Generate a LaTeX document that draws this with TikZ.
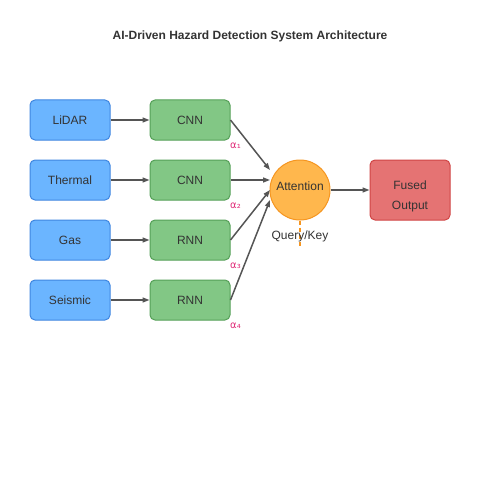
\documentclass[tikz,border=0pt]{standalone}
\usepackage{fontspec}
\setmainfont{Liberation Sans}
\newfontfamily\dejavu{DejaVu Sans}
\usetikzlibrary{arrows.meta}
\definecolor{inblue}{HTML}{6BB5FF}
\definecolor{inbluedraw}{HTML}{3F86E0}
\definecolor{fgreen}{HTML}{82C785}
\definecolor{fgreendraw}{HTML}{55A058}
\definecolor{attfill}{HTML}{FFB74D}
\definecolor{attdraw}{HTML}{F59520}
\definecolor{outfill}{HTML}{E57373}
\definecolor{outdraw}{HTML}{D04545}
\definecolor{arrowgray}{HTML}{555555}
\definecolor{alphacol}{HTML}{E0307A}
\definecolor{txt}{HTML}{333333}
\begin{document}
\begin{tikzpicture}[x=1pt,y=-1pt,
  box/.style={rounded corners=5pt, line width=1pt, minimum width=80pt, minimum height=40pt, inner sep=0pt, font=\fontsize{12}{14}\selectfont, text=txt},
  inbox/.style={box, fill=inblue, draw=inbluedraw},
  featbox/.style={box, fill=fgreen, draw=fgreendraw},
  lbl/.style={font=\fontsize{12}{14}\selectfont, text=txt, inner sep=0pt},
  conn/.style={draw=arrowgray, line width=1.5pt, -{Triangle[length=7pt,width=5pt]}},
  alphalbl/.style={font=\dejavu\fontsize{10}{11}\selectfont, text=alphacol, inner sep=0pt}]
\path[use as bounding box] (0,0) rectangle (500,500);
\node[font=\bfseries\fontsize{12}{14}\selectfont, text=txt] (title) at (250,36) {AI-Driven Hazard Detection System Architecture};
% inputs
\node[inbox] (lidar) at (70,120) {\raisebox{-1pt}{LiDAR}};
\node[inbox] (thermal) at (70,180) {\raisebox{-1pt}{Thermal}};
\node[inbox] (gas) at (70,240) {\raisebox{-1pt}{Gas}};
\node[inbox] (seismic) at (70,300) {\raisebox{-1pt}{Seismic}};
% features
\node[featbox] (cnn1) at (190,120) {\raisebox{-1pt}{CNN}};
\node[featbox] (cnn2) at (190,180) {\raisebox{-1pt}{CNN}};
\node[featbox] (rnn1) at (190,240) {\raisebox{-1pt}{RNN}};
\node[featbox] (rnn2) at (190,300) {\raisebox{-1pt}{RNN}};
% attention
\node[circle, minimum size=60pt, inner sep=0pt, fill=attfill, draw=attdraw, line width=1pt] (att) at (300,190) {};
\node[lbl] (attlbl) at (300,186) {Attention};
% output
\node[box, fill=outfill, draw=outdraw, minimum height=60pt] (out) at (410,190) {};
\node[lbl, align=center, font=\fontsize{12}{20}\selectfont] (outlbl) at (410,196) {Fused\\Output};
% dashed query/key
\coordinate (qk) at (300,248);
\draw[attdraw, line width=1.5pt, dash pattern=on 4pt off 3pt] (att.south) -- (qk);
\node[lbl] (qklbl) at (300,236) {Query/Key};
% arrows
\draw[conn] (lidar.east) -- (cnn1.west);
\draw[conn] (thermal.east) -- (cnn2.west);
\draw[conn] (gas.east) -- (rnn1.west);
\draw[conn] (seismic.east) -- (rnn2.west);
\coordinate (a1) at (270,170);
\coordinate (a2) at (270,180);
\coordinate (a3) at (270,190);
\coordinate (a4) at (270,200);
\draw[conn] (cnn1.east) -- (a1);
\draw[conn] (cnn2.east) -- (a2);
\draw[conn] (rnn1.east) -- (a3);
\draw[conn] (rnn2.east) -- (a4);
\draw[conn] (att.east) -- (out.west);
% alpha labels
\node[alphalbl, anchor=west] (al1) at (230,146) {α₁};
\node[alphalbl, anchor=west] (al2) at (230,206) {α₂};
\node[alphalbl, anchor=west] (al3) at (230,266) {α₃};
\node[alphalbl, anchor=west] (al4) at (230,326) {α₄};
\end{tikzpicture}
\end{document}
